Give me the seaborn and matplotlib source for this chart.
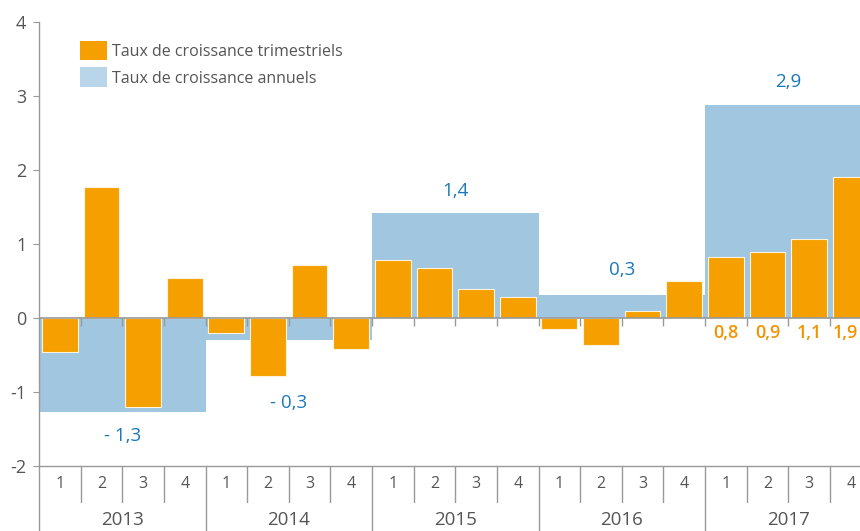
import numpy as np
import pandas as pd
import matplotlib
matplotlib.use("Agg")
import matplotlib.pyplot as plt
from matplotlib.patches import Patch
import seaborn as sns

# quarterly growth (2013 Q1 .. 2017 Q4)
quarters = ["1", "2", "3", "4"] * 5
years = ["2013", "2014", "2015", "2016", "2017"]
quarterly = [-0.46, 1.77, -1.20, 0.54,
             -0.20, -0.78, 0.72, -0.42,
             0.78, 0.68, 0.39, 0.28,
             -0.15, -0.36, 0.09, 0.50,
             0.83, 0.89, 1.07, 1.91]
annual = [-1.27, -0.30, 1.42, 0.31, 2.88]
annual_labels = ["- 1,3", "- 0,3", "1,4", "0,3", "2,9"]
last_year_labels = ["0,8", "0,9", "1,1", "1,9"]

ORANGE = "#F5A000"
BLUE = "#A0C6E0"
LABEL_BLUE = "#1A78BA"
LABEL_ORANGE = "#F29400"
GREY = "#555555"
LINE = "#999999"

sns.set_theme(style="white")
plt.rcParams["font.family"] = ["Open Sans", "DejaVu Sans"]

fig = plt.figure(figsize=(8.6, 5.31), dpi=100)
ax = fig.add_axes([39 / 860, 1 - 466 / 531, 1 - 39 / 860, (466 - 22) / 531])

df_q = pd.DataFrame({"pos": np.arange(20), "val": quarterly})
df_a = pd.DataFrame({"pos": np.arange(5) * 4 + 1.5, "val": annual})

sns.barplot(data=df_a, x="pos", y="val", native_scale=True, orient="x",
            width=1.0, color=BLUE, saturation=1, linewidth=0,
            errorbar=None, ax=ax, zorder=1)
sns.barplot(data=df_q, x="pos", y="val", native_scale=True, orient="x",
            width=0.86, color=ORANGE, saturation=1, edgecolor="#FFF3DD",
            linewidth=0.8, errorbar=None, ax=ax, zorder=2)

ax.set_xlim(-0.5, 821 / 41.625 - 0.5)
ax.set_ylim(-2, 4)
ax.set_yticks(range(-2, 5))
ax.set_yticklabels([str(v) for v in range(-2, 5)], fontsize=13, color=GREY)
ax.set_xticks([])
ax.set_xlabel("")
ax.set_ylabel("")
ax.tick_params(axis="y", length=4, width=0.8, color=LINE, left=True, pad=5)
for s in ["top", "right"]:
    ax.spines[s].set_visible(False)
ax.spines["left"].set_color(LINE)
ax.spines["left"].set_linewidth(1)
ax.spines["bottom"].set_color(LINE)
ax.spines["bottom"].set_linewidth(1)
# left spine keeps going under the table
ax.plot([-0.5, -0.5], [-2, -2.9], color=LINE, lw=1, clip_on=False)

# zero line with small ticks at quarter boundaries
ax.axhline(0, color=LINE, lw=1.2, zorder=3)
bounds = np.arange(20) + 0.5
ax.vlines(bounds, -0.11, 0, color=LINE, lw=1, zorder=3)

# table under the axis
for b in bounds:
    low = -2.88 if (b + 0.5) % 4 == 0 else -2.49
    ax.plot([b, b], [-2, low], color=LINE, lw=1, clip_on=False)
for i, q in enumerate(quarters):
    ax.text(i, -2.24, q, ha="center", va="center", fontsize=11.5,
            color=GREY, clip_on=False)
for j, y in enumerate(years):
    ax.text(j * 4 + 1.5, -2.73, y, ha="center", va="center", fontsize=13.5,
            color=GREY, clip_on=False)

# annual labels
label_y = [-1.59, -1.15, 1.72, 0.65, 3.19]
for j, lab in enumerate(annual_labels):
    ax.text(j * 4 + 1.5, label_y[j], lab, ha="center", va="center",
            fontsize=13.5, color=LABEL_BLUE)

# 2017 quarterly labels (last one nudged so it stays inside the figure)
for k, lab in enumerate(last_year_labels):
    xpos = 16 + k - (0.14 if k == 3 else 0)
    ax.text(xpos, -0.2, lab, ha="center", va="center", fontsize=13,
            color=LABEL_ORANGE, fontweight="semibold", clip_on=False)

handles = [Patch(facecolor=ORANGE, edgecolor="none"),
           Patch(facecolor="#B8D5EA", edgecolor="none")]
ax.legend(handles, ["Taux de croissance trimestriels", "Taux de croissance annuels"],
          loc="upper left", bbox_to_anchor=(0.033, 0.99), frameon=False,
          fontsize=11.5, handlelength=1.65, handleheight=1.5, handletextpad=0.3,
          labelspacing=0.45, labelcolor=GREY)

fig.savefig("out.png", dpi=100)
